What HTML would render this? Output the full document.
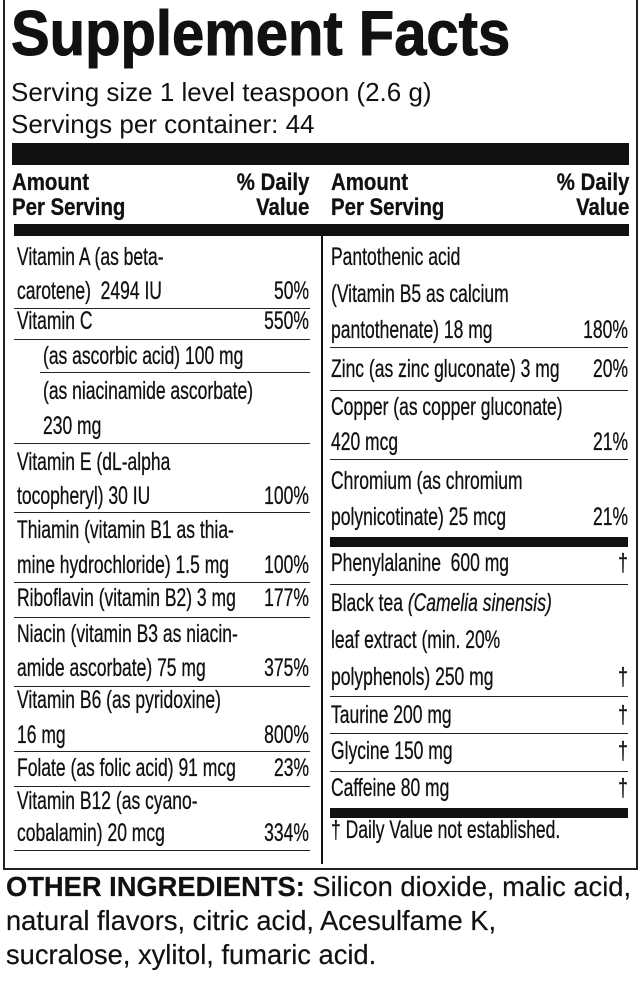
<!DOCTYPE html><html><head><style>
body{margin:0;width:639px;height:993px;background:#fff;position:relative;overflow:hidden;font-family:"Liberation Sans",sans-serif;color:#111}
.a{position:absolute;white-space:nowrap;line-height:28px;height:28px;font-size:25px;-webkit-text-stroke:0.3px #111}
.l{transform:scaleX(.70);transform-origin:left center}
.r{transform:scaleX(.70);transform-origin:right center;text-align:right}
.h{position:absolute;height:1px;background:#222}
.b{position:absolute;background:#111}
</style></head><body>
<div style="position:absolute;left:3px;top:-2px;width:631px;height:868px;border:2px solid #222"></div>
<div class="a" style="left:11px;top:4px;font-size:63px;line-height:60px;height:60px;font-weight:bold;transform:scaleX(.92);transform-origin:left;-webkit-text-stroke:1px #111">Supplement Facts</div>
<div class="a" style="left:11px;top:78px;font-size:26px;-webkit-text-stroke:0">Serving size 1 level teaspoon (2.6 g)</div>
<div class="a" style="left:11px;top:110px;font-size:26px;-webkit-text-stroke:0">Servings per container: 44</div>
<div class="b" style="left:12px;top:143px;width:617px;height:22px"></div>
<div class="a l" style="left:12px;top:170px;font-weight:bold;font-size:24px;line-height:25px;transform:scaleX(.85)">Amount<br>Per Serving</div>
<div class="a r" style="right:330px;top:170px;font-weight:bold;font-size:24px;line-height:25px;transform:scaleX(.85)">% Daily<br>Value</div>
<div class="a l" style="left:331px;top:170px;font-weight:bold;font-size:24px;line-height:25px;transform:scaleX(.85)">Amount<br>Per Serving</div>
<div class="a r" style="right:10px;top:170px;font-weight:bold;font-size:24px;line-height:25px;transform:scaleX(.85)">% Daily<br>Value</div>
<div class="b" style="left:14px;top:224px;width:615px;height:12px"></div>
<div class="b" style="left:321px;top:236px;width:2px;height:628px"></div>

<div class="a l" style="left:17px;top:243px">Vitamin A (as beta-</div>
<div class="a l" style="left:17px;top:277px">carotene)&nbsp; 2494 IU</div><div class="a r" style="right:330px;top:277px">50%</div>
<div class="h" style="left:14px;top:308px;width:296px"></div>
<div class="a l" style="left:17px;top:307px">Vitamin C</div><div class="a r" style="right:330px;top:307px">550%</div>
<div class="h" style="left:14px;top:339px;width:296px"></div>
<div class="a l" style="left:43px;top:342px">(as ascorbic acid) 100 mg</div>
<div class="h" style="left:40px;top:372px;width:270px"></div>
<div class="a l" style="left:43px;top:377px">(as niacinamide ascorbate)</div>
<div class="a l" style="left:43px;top:412px">230 mg</div>
<div class="h" style="left:14px;top:443px;width:296px"></div>
<div class="a l" style="left:17px;top:448px">Vitamin E (dL-alpha</div>
<div class="a l" style="left:17px;top:482px">tocopheryl) 30 IU</div><div class="a r" style="right:330px;top:482px">100%</div>
<div class="h" style="left:14px;top:512px;width:296px"></div>
<div class="a l" style="left:17px;top:516px">Thiamin (vitamin B1 as thia-</div>
<div class="a l" style="left:17px;top:551px">mine hydrochloride) 1.5 mg</div><div class="a r" style="right:330px;top:551px">100%</div>
<div class="h" style="left:14px;top:582px;width:296px"></div>
<div class="a l" style="left:17px;top:584px">Riboflavin (vitamin B2) 3 mg</div><div class="a r" style="right:330px;top:584px">177%</div>
<div class="h" style="left:14px;top:617px;width:296px"></div>
<div class="a l" style="left:17px;top:620px">Niacin (vitamin B3 as niacin-</div>
<div class="a l" style="left:17px;top:654px">amide ascorbate) 75 mg</div><div class="a r" style="right:330px;top:654px">375%</div>
<div class="h" style="left:14px;top:686px;width:296px"></div>
<div class="a l" style="left:17px;top:686px">Vitamin B6 (as pyridoxine)</div>
<div class="a l" style="left:17px;top:721px">16 mg</div><div class="a r" style="right:330px;top:721px">800%</div>
<div class="h" style="left:14px;top:751px;width:296px"></div>
<div class="a l" style="left:17px;top:754px">Folate (as folic acid) 91 mcg</div><div class="a r" style="right:330px;top:754px">23%</div>
<div class="h" style="left:14px;top:786px;width:296px"></div>
<div class="a l" style="left:17px;top:787px">Vitamin B12 (as cyano-</div>
<div class="a l" style="left:17px;top:819px">cobalamin) 20 mcg</div><div class="a r" style="right:330px;top:819px">334%</div>
<div class="h" style="left:14px;top:850px;width:296px"></div>

<div class="a l" style="left:331px;top:243px">Pantothenic acid</div>
<div class="a l" style="left:331px;top:280px">(Vitamin B5 as calcium</div>
<div class="a l" style="left:331px;top:316px">pantothenate) 18 mg</div><div class="a r" style="right:11px;top:316px">180%</div>
<div class="h" style="left:330px;top:347px;width:298px"></div>
<div class="a l" style="left:331px;top:355px">Zinc (as zinc gluconate) 3 mg</div><div class="a r" style="right:11px;top:355px">20%</div>
<div class="h" style="left:330px;top:390px;width:298px"></div>
<div class="a l" style="left:331px;top:393px">Copper (as copper gluconate)</div>
<div class="a l" style="left:331px;top:428px">420 mcg</div><div class="a r" style="right:11px;top:428px">21%</div>
<div class="h" style="left:330px;top:459px;width:298px"></div>
<div class="a l" style="left:331px;top:467px">Chromium (as chromium</div>
<div class="a l" style="left:331px;top:503px">polynicotinate) 25 mcg</div><div class="a r" style="right:11px;top:503px">21%</div>
<div class="b" style="left:330px;top:537px;width:298px;height:10px"></div>
<div class="a l" style="left:331px;top:549px">Phenylalanine&nbsp; 600 mg</div><div class="a r" style="right:11px;top:549px">†</div>
<div class="h" style="left:330px;top:584px;width:298px"></div>
<div class="a l" style="left:331px;top:589px">Black tea <i>(Camelia sinensis)</i></div>
<div class="a l" style="left:331px;top:626px">leaf extract (min. 20%</div>
<div class="a l" style="left:331px;top:663px">polyphenols) 250 mg</div><div class="a r" style="right:11px;top:663px">†</div>
<div class="h" style="left:330px;top:696px;width:298px"></div>
<div class="a l" style="left:331px;top:701px">Taurine 200 mg</div><div class="a r" style="right:11px;top:701px">†</div>
<div class="h" style="left:330px;top:733px;width:298px"></div>
<div class="a l" style="left:331px;top:737px">Glycine 150 mg</div><div class="a r" style="right:11px;top:737px">†</div>
<div class="h" style="left:330px;top:771px;width:298px"></div>
<div class="a l" style="left:331px;top:774px">Caffeine 80 mg</div><div class="a r" style="right:11px;top:774px">†</div>
<div class="b" style="left:330px;top:808px;width:298px;height:10px"></div>
<div class="a l" style="left:331px;top:816px">† Daily Value not established.</div>

<div class="a" style="left:6px;top:870px;font-size:28px;line-height:34px;height:110px;transform:scaleX(.975);transform-origin:left;-webkit-text-stroke:0.2px #111"><b>OTHER INGREDIENTS:</b> Silicon dioxide, malic acid,<br>natural flavors, citric acid, Acesulfame K,<br>sucralose, xylitol, fumaric acid.</div>
</body></html>
